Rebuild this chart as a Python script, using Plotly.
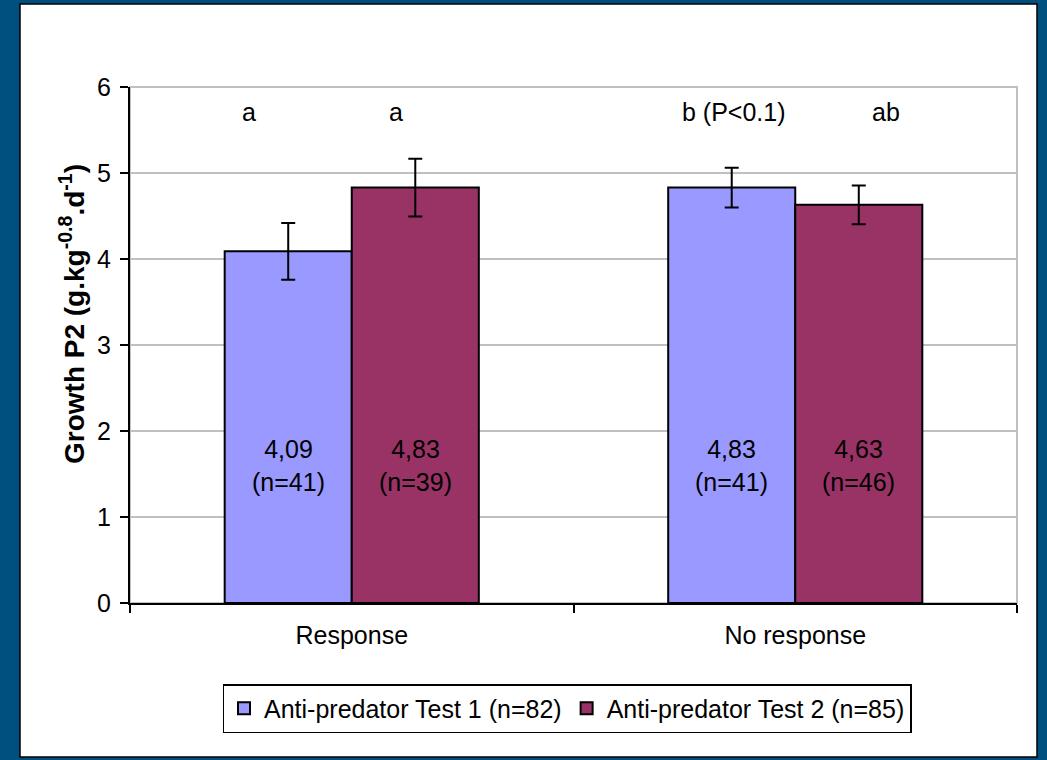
import plotly.graph_objects as go

# Growth P2 by anti-predator response group
categories = ["Response", "No response"]
series_names = ["Anti-predator Test 1 (n=82)", "Anti-predator Test 2 (n=85)"]
test1_values = [4.09, 4.83]
test1_errors = [0.33, 0.23]
test1_counts = [41, 41]
test2_values = [4.83, 4.63]
test2_errors = [0.335, 0.225]
test2_counts = [39, 46]
test1_letters = ["a", "b (P<0.1)"]
test2_letters = ["a", "ab"]
y_ticks = [0, 1, 2, 3, 4, 5, 6]

FONT = "Arial, Liberation Sans, sans-serif"
FS = 25
BG_BLUE = "#00507F"
COL1 = "#9999FF"
COL2 = "#993366"

W, H = 1047, 760
L, R, T, B = 130, 30, 87, 157
PW, PH = W - L - R, H - T - B

fig = go.Figure()
series = [
    (series_names[0], test1_values, test1_errors, COL1),
    (series_names[1], test2_values, test2_errors, COL2),
]
for name, vals, errs, col in series:
    fig.add_trace(go.Bar(
        x=categories, y=vals, name=name,
        marker=dict(color=col, line=dict(color="black", width=2)),
        error_y=dict(type="data", array=errs, visible=True,
                     color="black", thickness=2, width=7),
    ))

bargap = 0.427
bar_w = (1 - bargap) / 2  # width of one bar in category units

annotations = []
# value and sample-size labels inside each bar
for si, (vals, counts) in enumerate([(test1_values, test1_counts),
                                     (test2_values, test2_counts)]):
    off = (-0.5 + si) * bar_w
    for ci, (v, n) in enumerate(zip(vals, counts)):
        annotations.append(dict(
            x=ci + off, y=1.6, xref="x", yref="y",
            text=f"{v:.2f}".replace(".", ",") + f"<br>(n={n})",
            showarrow=False, font=dict(family=FONT, size=FS, color="black"),
            xanchor="center", yanchor="middle",
        ))

# significance letters above the bars
letter_nudge = [[-39, 2], [-19, 27]]
for si, letters in enumerate([test1_letters, test2_letters]):
    off = (-0.5 + si) * bar_w
    for ci, txt in enumerate(letters):
        annotations.append(dict(
            x=ci + off, y=5.71, xref="x", yref="y", xshift=letter_nudge[si][ci],
            text=txt, showarrow=False,
            font=dict(family=FONT, size=FS, color="black"),
            xanchor="center", yanchor="middle",
        ))


def px_x(p):
    return (p - L) / PW


def px_y(p):
    return (H - B - p) / PH


# y-axis title
annotations.append(dict(
    x=px_x(72), y=px_y(314), xref="paper", yref="paper",
    text="<b>Growth P2 (g.kg<sup>-0.8</sup>.d<sup>-1</sup>)</b>", textangle=-90,
    showarrow=False, font=dict(family=FONT, size=28, color="black"),
    xanchor="center", yanchor="middle",
))

shapes = [
    # white slide panel
    dict(type="rect", xref="paper", yref="paper",
         x0=px_x(20), x1=px_x(1037), y0=px_y(757), y1=px_y(4),
         fillcolor="white", line=dict(color="black", width=1.5), layer="below"),
    # plot frame
    dict(type="rect", xref="paper", yref="paper", x0=0, x1=1, y0=0, y1=1,
         line=dict(color="#C0C0C0", width=2), layer="below"),
]

fig.update_layout(
    width=W, height=H,
    margin=dict(l=L, r=R, t=T, b=B, pad=0),
    paper_bgcolor=BG_BLUE, plot_bgcolor="white",
    barmode="group", bargap=bargap, bargroupgap=0,
    font=dict(family=FONT, size=FS, color="black"),
    showlegend=True,
    legend=dict(orientation="h", x=px_x(567), y=px_y(684),
                xanchor="center", yanchor="top",
                bgcolor="white", bordercolor="black", borderwidth=1.5,
                font=dict(family=FONT, size=FS, color="black"),
                itemwidth=30, tracegroupgap=0),
    annotations=annotations,
    shapes=shapes,
)
fig.update_yaxes(range=[0, 6], tickvals=y_ticks, showgrid=True,
                 gridcolor="#C0C0C0", gridwidth=1.5,
                 showline=True, linecolor="black", linewidth=2,
                 ticks="outside", ticklen=8, tickwidth=2, tickcolor="black",
                 zeroline=False, tickfont=dict(size=FS), ticklabelstandoff=4)
fig.update_xaxes(type="category", showgrid=False, showline=True,
                 linecolor="black", linewidth=2, ticks="outside",
                 tickson="boundaries", ticklen=8, tickwidth=2,
                 tickcolor="black", tickfont=dict(size=FS),
                 ticklabelstandoff=9)

fig.write_html("out.html")
